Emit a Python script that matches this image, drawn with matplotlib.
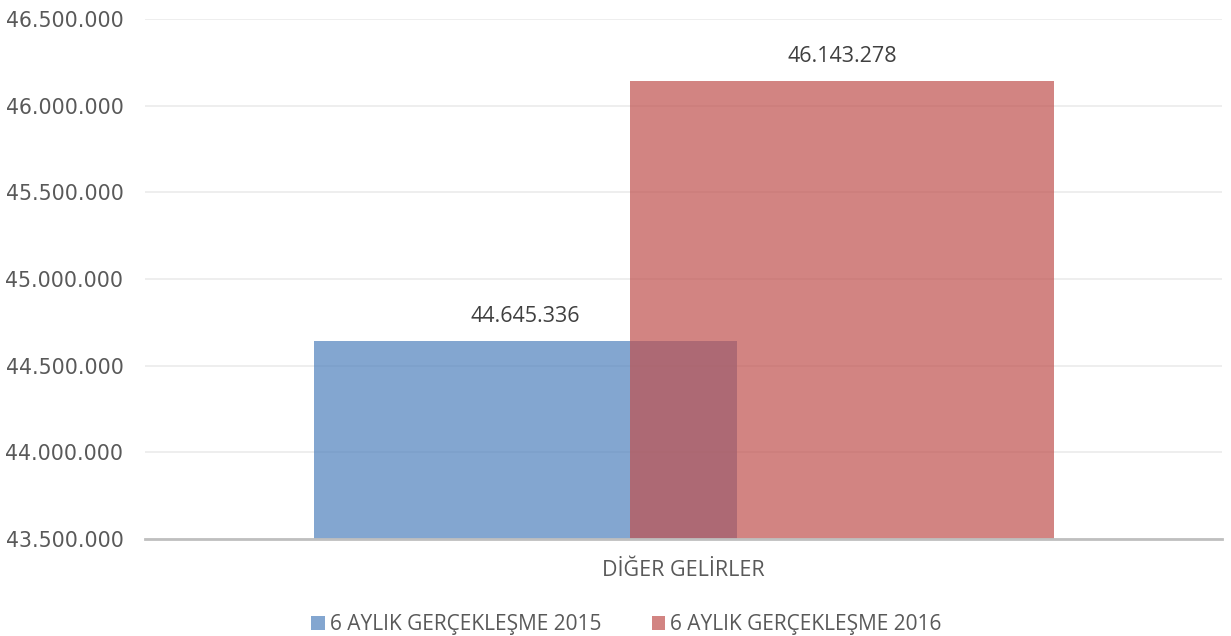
import matplotlib
matplotlib.use("Agg")
import matplotlib.pyplot as plt
from matplotlib.ticker import FuncFormatter
from matplotlib.patches import Patch

categories = ["DİĞER GELİRLER"]
series_names = ["6 AYLIK GERÇEKLEŞME 2015", "6 AYLIK GERÇEKLEŞME 2016"]
values_2015 = [44645336]
values_2016 = [46143278]
colors = ["#4F81BD", "#C0504D"]

def tr_fmt(v):
    return f"{int(round(v)):,}".replace(",", ".")

fig = plt.figure(figsize=(12.31, 6.36), dpi=100)
ax = fig.add_axes([0.1178, 0.1525, 0.875, 0.8175])

width = 0.393
offset = 0.147
x = list(range(len(categories)))
label_font = "Open Sans"
for vals, off, col in [(values_2015, -offset, colors[0]), (values_2016, offset, colors[1])]:
    pos = [xi + off for xi in x]
    bars = ax.bar(pos, vals, width=width, color=col, alpha=0.7, zorder=3)
    for b, v in zip(bars, vals):
        ax.annotate(tr_fmt(v), (b.get_x() + b.get_width() / 2, v), xytext=(0, 10),
                    textcoords="offset points", ha="center", va="bottom",
                    fontsize=15.5, color="#404040", family=label_font)

ax.set_ylim(43500000, 46500000)
ax.set_xlim(-0.5, 0.5)
ax.set_yticks([43500000 + 500000 * i for i in range(7)])
ax.yaxis.set_major_formatter(FuncFormatter(lambda v, p: tr_fmt(v)))
ax.set_xticks(x)
ax.set_xticklabels(categories, fontsize=15.5, color="#595959", family=label_font)
for t in ax.get_yticklabels():
    t.set_fontsize(14.8)
    t.set_color("#595959")
ax.tick_params(axis="y", length=0, pad=15.5)
ax.tick_params(axis="x", length=0, pad=15)
ax.grid(axis="y", color="#EBEBEB", linewidth=1.2, zorder=0)
for s in ["top", "right", "left"]:
    ax.spines[s].set_visible(False)
ax.spines["bottom"].set_color("#BFBFBF")
ax.spines["bottom"].set_linewidth(2)
ax.spines["bottom"].set_zorder(4)

handles = [Patch(facecolor=c, alpha=0.7) for c in colors]
fig.legend(handles, series_names, loc="center", bbox_to_anchor=(0.509, 0.018),
           ncol=2, frameon=False, handlelength=0.65, handleheight=0.65,
           handletextpad=0.25, columnspacing=2.4,
           prop={"family": label_font, "size": 15}, labelcolor="#595959")

fig.savefig("out.png", dpi=100)
